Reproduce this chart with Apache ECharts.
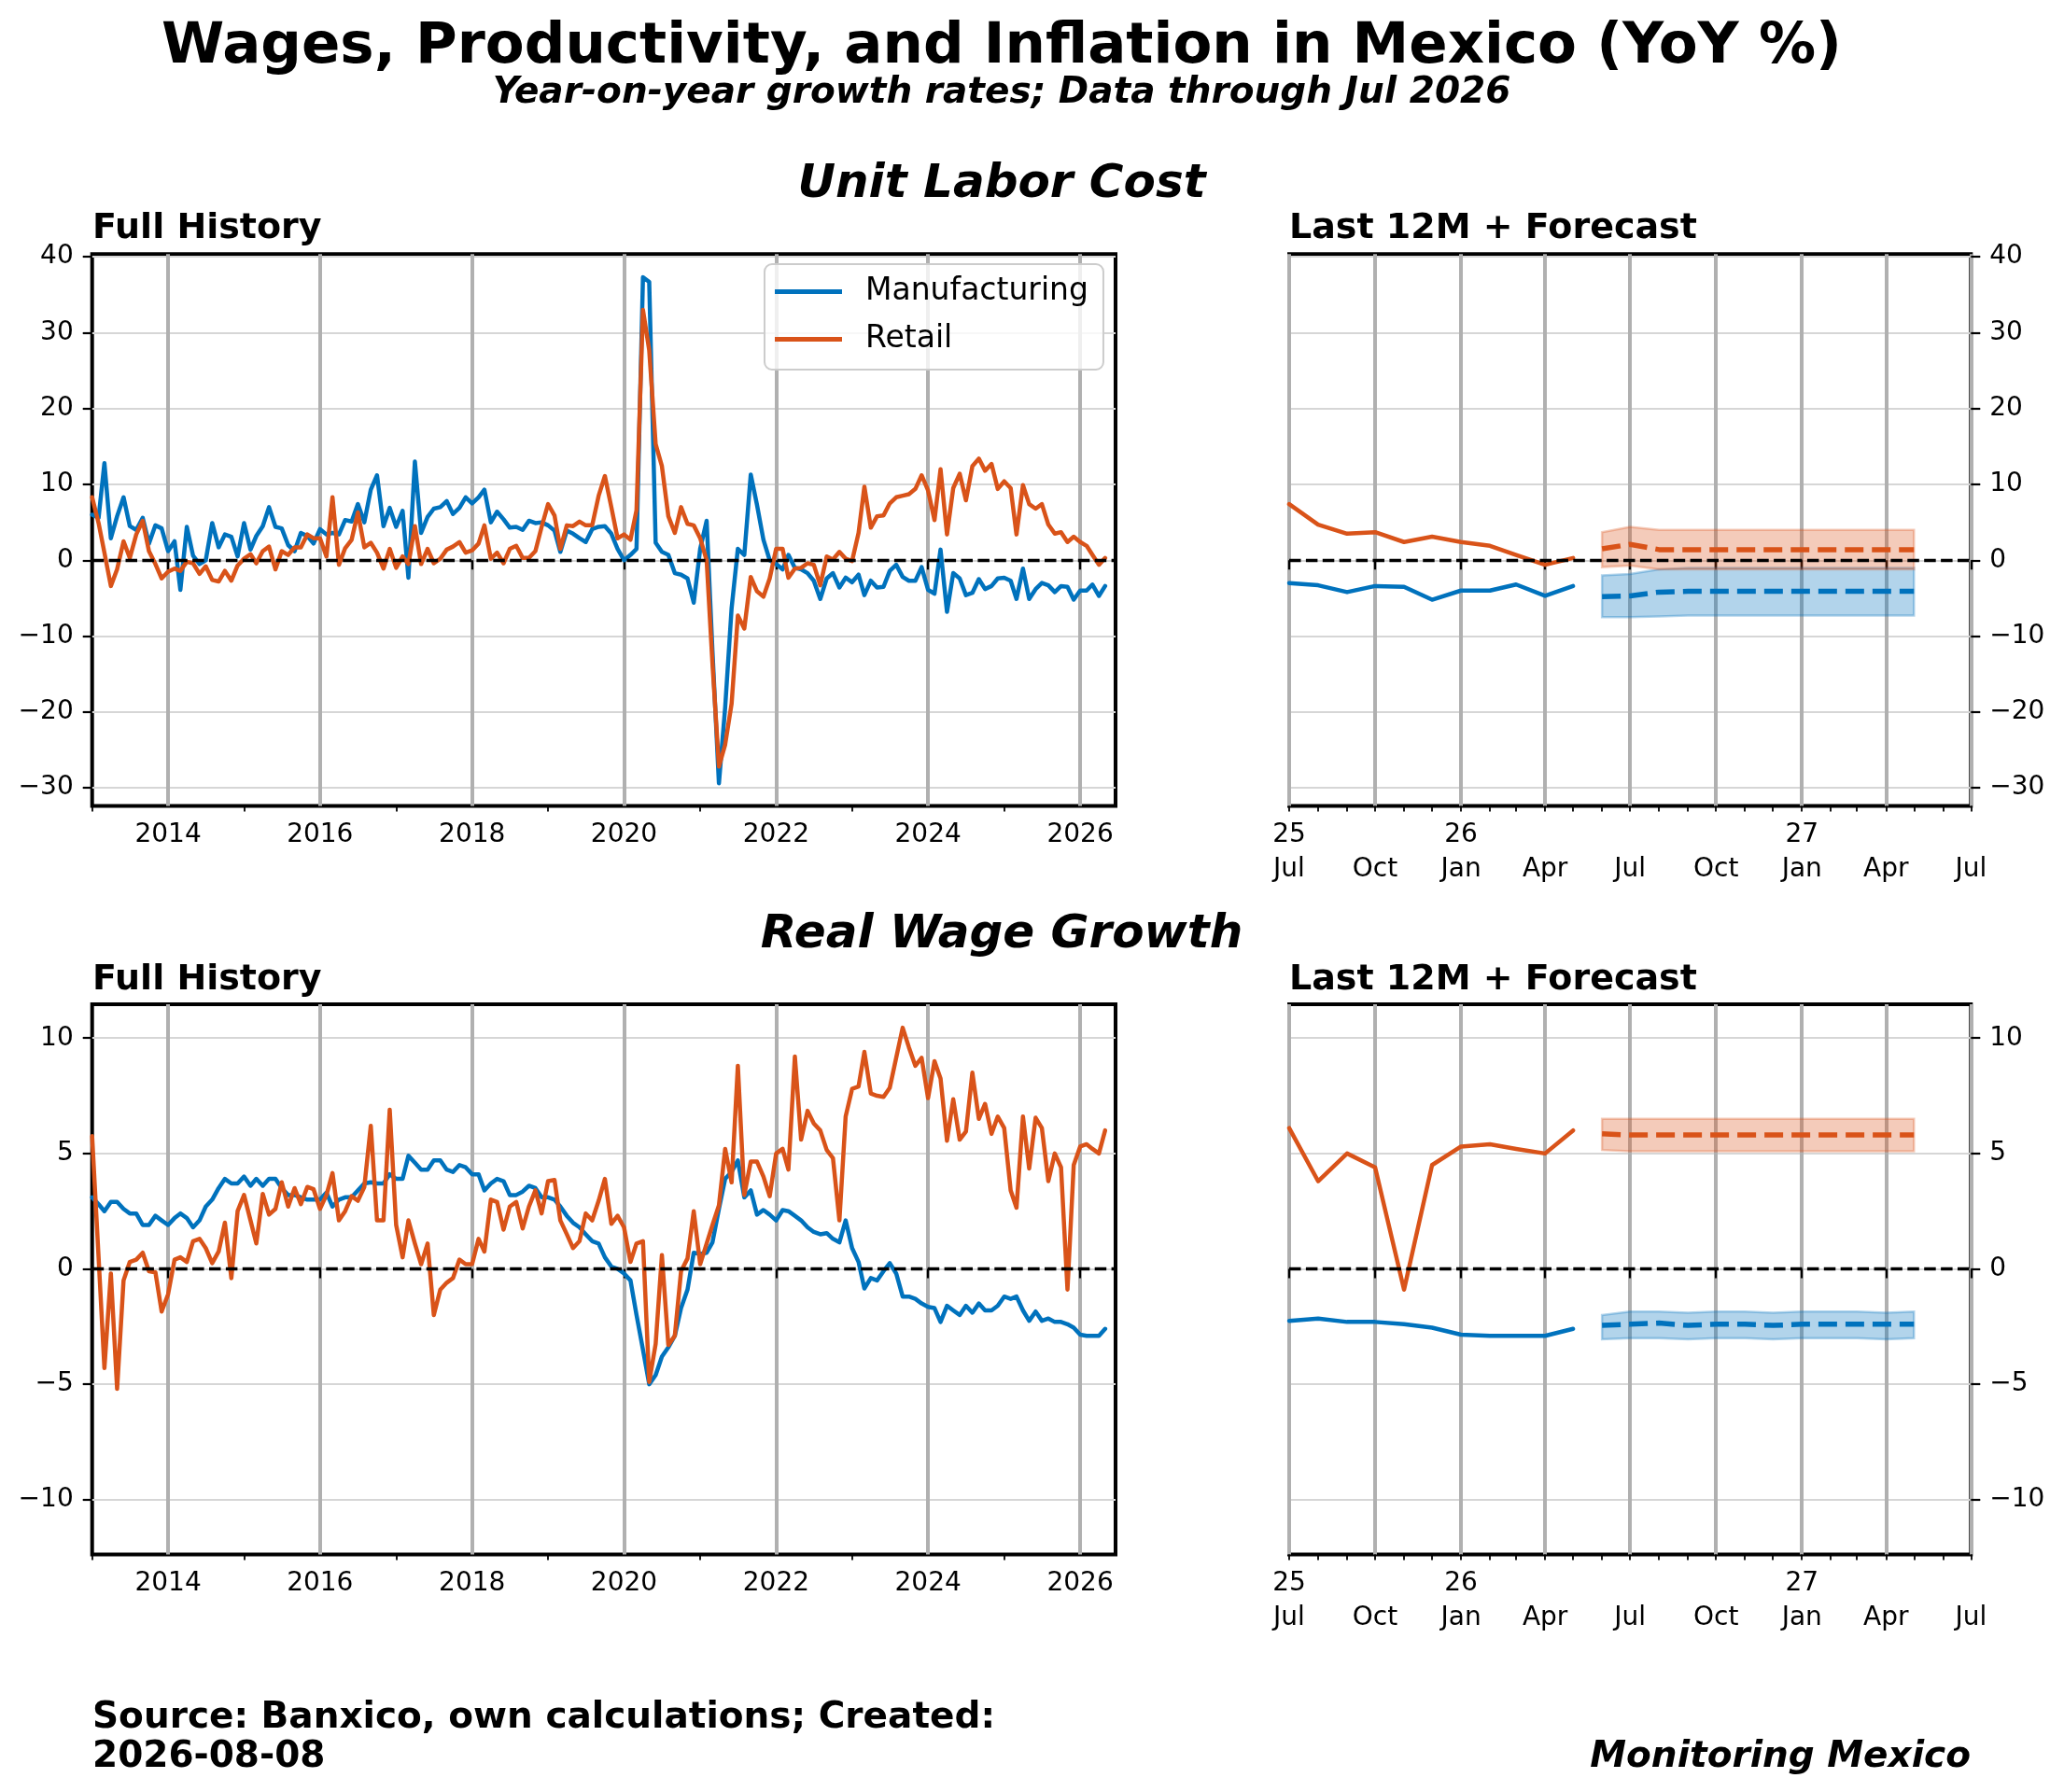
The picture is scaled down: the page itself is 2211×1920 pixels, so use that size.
<!DOCTYPE html>
<html>
<head>
<meta charset="utf-8">
<script src="https://cdn.jsdelivr.net/npm/echarts@6/dist/echarts.min.js"></script>
<style>
html,body{margin:0;padding:0;background:#fff;}
#chart{width:2211px;height:1920px;}
</style>
</head>
<body>
<div id="chart"></div>
<script>
// ---------------- DATA ----------------
// Monthly history, first value = Jan 2013, last value = May 2026
const historyStart = [2013, 0];

const ulcManufacturing = [
  6.0, 5.6, 12.8, 2.9, 5.8, 8.3, 4.5, 4.0, 5.6, 2.2, 4.6, 4.2,
  1.2, 2.5, -3.9, 4.4, 0.6, -0.5, 0.0, 4.9, 1.7, 3.4, 3.1, 0.5,
  4.9, 1.4, 3.2, 4.5, 7.0, 4.4, 4.2, 2.0, 1.2, 3.6, 3.2, 2.2,
  4.1, 3.4, 3.6, 3.4, 5.3, 5.1, 7.4, 5.0, 9.3, 11.2, 4.5, 6.9,
  4.4, 6.5, -2.3, 13.0, 3.6, 5.7, 6.8, 7.0, 7.8, 6.1, 6.9, 8.3,
  7.5, 8.3, 9.3, 5.0, 6.4, 5.4, 4.3, 4.4, 4.0, 5.2, 4.9, 5.0,
  4.6, 3.9, 1.1, 3.9, 3.5, 2.9, 2.4, 4.1, 4.4, 4.5, 3.5, 1.5,
  0.0, 0.7, 1.5, 37.3, 36.7, 2.3, 1.1, 0.7, -1.7, -1.9, -2.4, -5.6,
  1.5, 5.2, -12.0, -29.4, -19.4, -6.3, 1.5, 0.7, 11.3, 7.3, 2.7, 0.0,
  -0.5, -1.2, 0.7, -1.0, -1.2, -1.7, -2.7, -5.1, -2.4, -1.7, -3.6, -2.3,
  -2.9, -1.9, -4.6, -2.7, -3.6, -3.5, -1.4, -0.6, -2.2, -2.7, -2.7, -0.9,
  -3.9, -4.4, 1.4, -6.8, -1.7, -2.4, -4.6, -4.3, -2.5, -3.8, -3.4, -2.4,
  -2.3, -2.7, -5.1, -1.1, -5.1, -3.8, -3.0, -3.3, -4.2, -3.4, -3.5, -5.2,
  -4.0, -4.0, -3.2, -4.7, -3.4
];
const ulcRetail = [
  8.3, 4.9, 1.0, -3.4, -1.2, 2.5, 0.3, 3.4, 5.2, 1.2, -0.5, -2.4,
  -1.5, -1.1, -1.4, -0.2, -0.4, -1.8, -0.8, -2.6, -2.8, -1.4, -2.7, -0.7,
  0.2, 0.8, -0.4, 1.2, 1.8, -1.2, 1.2, 0.7, 1.7, 1.7, 3.4, 2.9,
  2.9, 0.5, 8.3, -0.6, 1.6, 2.7, 6.3, 1.7, 2.3, 1.0, -1.1, 1.5,
  -1.0, 0.5, -0.5, 4.5, -0.5, 1.5, -0.4, 0.2, 1.4, 1.8, 2.4, 1.0,
  1.3, 2.2, 4.6, 0.2, 1.0, -0.4, 1.5, 1.9, 0.3, 0.3, 1.2, 4.4,
  7.4, 5.9, 1.5, 4.6, 4.5, 5.1, 4.6, 4.6, 8.5, 11.1, 7.0, 2.9,
  3.4, 2.7, 6.6, 33.0, 27.7, 15.3, 12.4, 5.8, 3.6, 7.0, 4.8, 4.6,
  2.9, 0.0, -13.6, -27.2, -24.3, -18.9, -7.3, -9.0, -2.2, -4.1, -4.8, -2.4,
  1.5, 1.5, -2.3, -1.1, -1.0, -0.4, -0.6, -3.3, 0.5, 0.1, 1.1, 0.2,
  -0.1, 3.6, 9.7, 4.3, 5.8, 5.9, 7.5, 8.3, 8.5, 8.7, 9.4, 11.2,
  9.2, 5.3, 12.0, 3.4, 9.5, 11.4, 7.9, 12.4, 13.4, 11.8, 12.7, 9.4,
  10.4, 9.5, 3.4, 9.9, 7.4, 6.8, 7.4, 4.7, 3.5, 3.7, 2.4, 3.1,
  2.4, 1.9, 0.7, -0.6, 0.3
];
const rwManufacturing = [
  3.1, 2.8, 2.5, 2.9, 2.9, 2.6, 2.4, 2.4, 1.9, 1.9, 2.3, 2.1,
  1.9, 2.2, 2.4, 2.2, 1.8, 2.1, 2.7, 3.0, 3.5, 3.9, 3.7, 3.7,
  4.0, 3.6, 3.9, 3.6, 3.9, 3.9, 3.5, 3.2, 3.2, 3.1, 3.0, 3.0,
  3.0, 3.3, 2.7, 3.0, 3.1, 3.1, 3.4, 3.7, 3.75, 3.7, 3.7, 4.1,
  3.9, 3.9, 4.9, 4.6, 4.3, 4.3, 4.7, 4.7, 4.3, 4.2, 4.5, 4.4,
  4.1, 4.1, 3.4, 3.7, 3.9, 3.8, 3.2, 3.2, 3.35, 3.6, 3.5, 3.1,
  3.1, 3.0, 2.7, 2.3, 2.0, 1.8, 1.5, 1.2, 1.1, 0.5, 0.1, 0.0,
  -0.2, -0.5, -2.0, -3.5, -5.0, -4.6, -3.8, -3.4, -2.9, -1.7, -0.9, 0.7,
  0.65, 0.7, 1.15, 2.6, 3.9, 4.2, 4.7, 3.1, 3.4, 2.35, 2.55, 2.35,
  2.1, 2.55, 2.5, 2.3, 2.1, 1.8, 1.6, 1.5, 1.55, 1.3, 1.15, 2.1,
  0.9, 0.3, -0.85, -0.4, -0.5, -0.1, 0.25, -0.2, -1.2, -1.2, -1.3, -1.5,
  -1.65, -1.7, -2.3, -1.6, -1.8, -2.0, -1.6, -1.9, -1.5, -1.8, -1.8, -1.6,
  -1.2, -1.3, -1.2, -1.8, -2.25, -1.85, -2.25, -2.15, -2.3, -2.3, -2.4, -2.55,
  -2.85, -2.9, -2.9, -2.9, -2.6
];
const rwRetail = [
  5.75, 0.5, -4.3, -0.2, -5.2, -0.5, 0.3, 0.4, 0.7, -0.1, -0.15, -1.85,
  -1.1, 0.4, 0.5, 0.3, 1.2, 1.3, 0.9, 0.25, 0.75, 2.0, -0.4, 2.5,
  3.2, 2.1, 1.1, 3.25, 2.35, 2.6, 3.75, 2.7, 3.5, 2.8, 3.55, 3.45,
  2.6, 3.2, 4.15, 2.1, 2.5, 3.15, 2.95, 3.55, 6.2, 2.1, 2.1, 6.9,
  1.9, 0.5, 2.1, 1.1, 0.2, 1.1, -2.0, -0.9, -0.6, -0.4, 0.4, 0.2,
  0.2, 1.3, 0.75, 3.0, 2.9, 1.7, 2.7, 2.9, 1.75, 2.7, 3.4, 2.4,
  3.8, 3.85, 2.1, 1.5, 0.9, 1.2, 2.4, 2.1, 2.95, 3.9, 1.95, 2.3,
  1.8, 0.3, 1.1, 1.2, -4.9, -3.25, 0.6, -3.3, -2.9, -0.1, 0.45, 2.5,
  0.2, 1.1, 1.9, 2.75, 5.2, 3.75, 8.8, 3.2, 4.65, 4.65, 4.0, 3.15,
  5.0, 5.2, 4.3, 9.2, 5.6, 6.85, 6.3, 6.0, 5.15, 4.8, 2.1, 6.6,
  7.8, 7.9, 9.4, 7.6, 7.5, 7.45, 7.85, 9.15, 10.45, 9.6, 8.8, 9.15,
  7.4, 9.0, 8.25, 5.55, 7.35, 5.6, 5.95, 8.5, 6.5, 7.15, 5.85, 6.6,
  6.1, 3.4, 2.65, 6.6, 4.35, 6.55, 6.1, 3.8, 5.0, 4.4, -0.9, 4.5,
  5.3, 5.4, 5.2, 5.0, 6.0
];

// Forecast, first value = Jun 2026, last value = May 2027
const forecastStart = [2026, 5];
const ulcManufForecast = [-4.8, -4.7, -4.2, -4.1, -4.1, -4.1, -4.1, -4.1, -4.1, -4.1, -4.1, -4.1];
const ulcManufLower    = [-7.5, -7.5, -7.4, -7.3, -7.3, -7.3, -7.3, -7.3, -7.3, -7.3, -7.3, -7.3];
const ulcManufUpper    = [-2.0, -1.8, -1.2, -1.0, -1.0, -1.0, -1.0, -1.0, -1.0, -1.0, -1.0, -1.0];
const ulcRetailForecast = [1.5, 2.1, 1.4, 1.4, 1.4, 1.4, 1.4, 1.4, 1.4, 1.4, 1.4, 1.4];
const ulcRetailLower    = [-0.9, -0.7, -1.2, -1.2, -1.2, -1.2, -1.2, -1.2, -1.2, -1.2, -1.2, -1.2];
const ulcRetailUpper    = [3.7, 4.4, 4.0, 4.0, 4.0, 4.0, 4.0, 4.0, 4.0, 4.0, 4.0, 4.0];
const rwManufForecast = [-2.45, -2.4, -2.35, -2.45, -2.4, -2.4, -2.45, -2.4, -2.4, -2.4, -2.4, -2.4];
const rwManufLower    = [-3.05, -3.0, -3.0, -3.05, -3.0, -3.0, -3.05, -3.0, -3.0, -3.0, -3.05, -3.0];
const rwManufUpper    = [-2.0, -1.85, -1.85, -1.9, -1.85, -1.85, -1.9, -1.85, -1.85, -1.85, -1.9, -1.85];
const rwRetailForecast = [5.85, 5.8, 5.8, 5.8, 5.8, 5.8, 5.8, 5.8, 5.8, 5.8, 5.8, 5.8];
const rwRetailLower    = [5.15, 5.1, 5.1, 5.1, 5.1, 5.1, 5.1, 5.1, 5.1, 5.1, 5.1, 5.1];
const rwRetailUpper    = [6.5, 6.5, 6.5, 6.5, 6.5, 6.5, 6.5, 6.5, 6.5, 6.5, 6.5, 6.5];

// Tick labels
const fullHistoryYears = [2014, 2016, 2018, 2020, 2022, 2024, 2026];
const fullHistoryMinorYears = [2013, 2015, 2017, 2019, 2021, 2023, 2025];
const recentMajorMonths = [[2025,6],[2025,9],[2026,0],[2026,3],[2026,6],[2026,9],[2027,0],[2027,3],[2027,6]];
const monthNames = {0:'Jan', 3:'Apr', 6:'Jul', 9:'Oct'};
const ulcTicks = [-30, -20, -10, 0, 10, 20, 30, 40];
const rwTicks = [-10, -5, 0, 5, 10];
const seriesNames = ['Manufacturing', 'Retail'];

// ---------------- BUILD ----------------
const FONT = 'DejaVu Sans';
const BLUE = '#0072BD', ORANGE = '#D95319';
const BLUE_A = 'rgba(0,114,189,0.3)', ORANGE_A = 'rgba(217,83,25,0.3)';

function monthly(start, values) {
  return values.map((v, i) => [Date.UTC(start[0], start[1] + i, 1), v]);
}
const fullMin = Date.UTC(2013, 0, 1), fullMax = Date.UTC(2026, 5, 20);
const recentMin = Date.UTC(2025, 6, 1), recentMax = Date.UTC(2027, 6, 1);
const fullMajor = fullHistoryYears.map(y => Date.UTC(y, 0, 1));
const fullMinor = fullHistoryMinorYears.map(y => Date.UTC(y, 0, 1));
const recentMajor = recentMajorMonths.map(a => Date.UTC(a[0], a[1], 1));
const recentMinor = [];
for (let k = 0; k <= 24; k++) recentMinor.push(Date.UTC(2025, 6 + k, 1));

const fmtY = v => (v < 0 ? '\u2212' + Math.abs(v) : String(v));
const fmtFull = v => String(new Date(v).getUTCFullYear());
const fmtRecent = v => {
  const d = new Date(v);
  const m = d.getUTCMonth();
  const showYear = (m === 0) || (v === recentMin);
  return (showYear ? String(d.getUTCFullYear() % 100) : ' ') + '\n' + (monthNames[m] || '');
};

const gridBase = {show: true, borderColor: '#000', borderWidth: 4, backgroundColor: 'transparent', containLabel: false, outerBoundsMode: 'none'};
const grids = [
  Object.assign({left: 98.7, top: 272.3, width: 1096.3, height: 591.3}, gridBase),
  Object.assign({left: 1381, top: 272.3, width: 730.3, height: 591.3}, gridBase),
  Object.assign({left: 98.7, top: 1075.9, width: 1096.3, height: 589.7}, gridBase),
  Object.assign({left: 1381, top: 1075.9, width: 730.3, height: 589.7}, gridBase)
];

const labelStyle = {fontSize: 28, fontFamily: FONT, color: '#000'};
function xMain(g, min, max, ticks, fmt) {
  return {
    type: 'value', gridIndex: g, min: min, max: max, position: 'bottom',
    axisLine: {show: false},
    axisTick: {show: true, inside: false, customValues: ticks, length: 10, lineStyle: {color: '#000', width: 2.2}},
    axisLabel: Object.assign({show: true, customValues: ticks, formatter: fmt, margin: 13, lineHeight: 37}, labelStyle),
    splitLine: {show: true, lineStyle: {color: '#b0b0b0', width: 4}},
    minorTick: {show: false}, minorSplitLine: {show: false}
  };
}
function xMinor(g, min, max, ticks) {
  return {
    type: 'value', gridIndex: g, min: min, max: max, position: 'bottom',
    axisLine: {show: false},
    axisTick: {show: true, inside: false, customValues: ticks, length: 6, lineStyle: {color: '#000', width: 1.8}},
    axisLabel: {show: false}, splitLine: {show: false}
  };
}
function yAx(g, min, max, ticks, pos) {
  return {
    type: 'value', gridIndex: g, min: min, max: max, position: pos,
    axisLine: {show: false},
    axisTick: {show: true, inside: false, customValues: ticks, length: 10, lineStyle: {color: '#000', width: 2.2}},
    axisLabel: Object.assign({customValues: ticks, formatter: fmtY, margin: 20}, labelStyle),
    splitLine: {show: true, lineStyle: {color: '#d6d6d6', width: 2}}
  };
}

const xAxes = [
  xMain(0, fullMin, fullMax, fullMajor, fmtFull), xMinor(0, fullMin, fullMax, fullMinor),
  xMain(1, recentMin, recentMax, recentMajor, fmtRecent), xMinor(1, recentMin, recentMax, recentMinor),
  xMain(2, fullMin, fullMax, fullMajor, fmtFull), xMinor(2, fullMin, fullMax, fullMinor),
  xMain(3, recentMin, recentMax, recentMajor, fmtRecent), xMinor(3, recentMin, recentMax, recentMinor)
];
const yAxes = [
  yAx(0, -32.4, 40.35, ulcTicks, 'left'),
  yAx(1, -32.4, 40.35, ulcTicks, 'right'),
  yAx(2, -12.38, 11.47, rwTicks, 'left'),
  yAx(3, -12.38, 11.47, rwTicks, 'right')
];

const zeroLine = {
  silent: true, symbol: ['none', 'none'], label: {show: false}, animation: false,
  lineStyle: {color: '#000', width: 3.4, type: [12.5, 5.4], opacity: 1},
  emphasis: {disabled: true},
  data: [{yAxis: 0}]
};

function histLine(name, color, xi, yi, data, withZero) {
  const s = {
    name: name, type: 'line', xAxisIndex: xi, yAxisIndex: yi, data: data,
    showSymbol: false, symbol: 'none', smooth: false, z: 3, clip: true,
    lineStyle: {color: color, width: 4.5, join: 'round', cap: 'round'},
    itemStyle: {color: color}, emphasis: {disabled: true}
  };
  if (withZero) s.markLine = zeroLine;
  return s;
}
function fcLine(name, color, xi, yi, data) {
  return {
    name: name, type: 'line', xAxisIndex: xi, yAxisIndex: yi, data: monthly(forecastStart, data),
    showSymbol: false, symbol: 'none', z: 3,
    lineStyle: {color: color, width: 5.5, type: [20, 9]},
    itemStyle: {color: color}, emphasis: {disabled: true}
  };
}
// Confidence band drawn as one polygon through the axis scales (api.coord)
function band(colorA, xi, yi, lower, upper) {
  const data = lower.map((lo, i) => [Date.UTC(forecastStart[0], forecastStart[1] + i, 1), lo, upper[i]]);
  return {
    type: 'custom', xAxisIndex: xi, yAxisIndex: yi, data: data, z: 1, silent: true,
    encode: {x: 0, y: [1, 2]},
    renderItem: function (params, api) {
      if (params.dataIndex !== 0) return null;
      const top = data.map(d => api.coord([d[0], d[2]]));
      const bot = data.map(d => api.coord([d[0], d[1]])).reverse();
      return {
        type: 'polygon',
        shape: {points: top.concat(bot)},
        style: {fill: colorA, stroke: colorA, lineWidth: 2.5}
      };
    }
  };
}

const ulcM = monthly(historyStart, ulcManufacturing);
const ulcR = monthly(historyStart, ulcRetail);
const rwM = monthly(historyStart, rwManufacturing);
const rwR = monthly(historyStart, rwRetail);

const series = [
  histLine(seriesNames[0], BLUE, 0, 0, ulcM, false),
  histLine(seriesNames[1], ORANGE, 0, 0, ulcR, true),
  band(BLUE_A, 2, 1, ulcManufLower, ulcManufUpper),
  band(ORANGE_A, 2, 1, ulcRetailLower, ulcRetailUpper),
  histLine(seriesNames[0], BLUE, 2, 1, ulcM.slice(150), false),
  histLine(seriesNames[1], ORANGE, 2, 1, ulcR.slice(150), true),
  fcLine('Manufacturing forecast', BLUE, 2, 1, ulcManufForecast),
  fcLine('Retail forecast', ORANGE, 2, 1, ulcRetailForecast),
  histLine(seriesNames[0], BLUE, 4, 2, rwM, false),
  histLine(seriesNames[1], ORANGE, 4, 2, rwR, true),
  band(BLUE_A, 6, 3, rwManufLower, rwManufUpper),
  band(ORANGE_A, 6, 3, rwRetailLower, rwRetailUpper),
  histLine(seriesNames[0], BLUE, 6, 3, rwM.slice(150), false),
  histLine(seriesNames[1], ORANGE, 6, 3, rwR.slice(150), true),
  fcLine('Manufacturing forecast', BLUE, 6, 3, rwManufForecast),
  fcLine('Retail forecast', ORANGE, 6, 3, rwRetailForecast)
];

function txt(text, x, y, font, align) {
  return {type: 'text', x: x, y: y, silent: true, z: 100,
    style: {text: text, font: font, fill: '#000', textAlign: align || 'center', textVerticalAlign: 'middle'}};
}
const graphics = [
  txt('Wages, Productivity, and Inflation in Mexico (YoY %)', 1073, 51, 'bold 61px "DejaVu Sans"'),
  txt('Year-on-year growth rates; Data through Jul 2026', 1073, 100, 'italic bold 39px "DejaVu Sans"'),
  txt('Unit Labor Cost', 1073, 198, 'italic bold 50px "DejaVu Sans"'),
  txt('Full History', 99, 245, 'bold 38px "DejaVu Sans"', 'left'),
  txt('Last 12M + Forecast', 1381, 245, 'bold 38px "DejaVu Sans"', 'left'),
  txt('Real Wage Growth', 1073, 1002, 'italic bold 50px "DejaVu Sans"'),
  txt('Full History', 99, 1050, 'bold 38px "DejaVu Sans"', 'left'),
  txt('Last 12M + Forecast', 1381, 1050, 'bold 38px "DejaVu Sans"', 'left'),
  txt('Source: Banxico, own calculations; Created:', 99, 1841, 'bold 39px "DejaVu Sans"', 'left'),
  txt('2026-08-08', 99, 1883, 'bold 39px "DejaVu Sans"', 'left'),
  txt('Monitoring Mexico', 2111, 1883, 'italic bold 39px "DejaVu Sans"', 'right')
];

const chart = echarts.init(document.getElementById('chart'), null, {renderer: 'canvas', width: 2211, height: 1920});
chart.setOption({
  animation: false,
  backgroundColor: '#ffffff',
  textStyle: {fontFamily: FONT, color: '#000'},
  grid: grids,
  xAxis: xAxes,
  yAxis: yAxes,
  legend: {
    data: seriesNames, left: 819, top: 283, orient: 'vertical', icon: 'rect',
    itemWidth: 72, itemHeight: 5, itemGap: 18, padding: [13, 16, 16, 11],
    backgroundColor: 'rgba(255,255,255,0.8)', borderColor: '#cccccc', borderWidth: 2, borderRadius: 8,
    selectedMode: false,
    textStyle: {fontSize: 33, fontFamily: FONT, color: '#000', padding: [0, 0, 0, 20]}
  },
  series: series,
  graphic: graphics
});
</script>
</body>
</html>
